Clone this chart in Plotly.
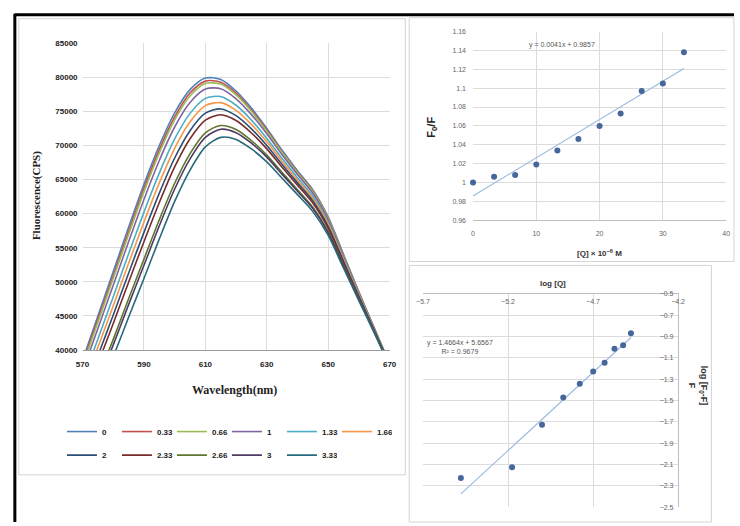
import numpy as np
import plotly.graph_objects as go

W, H = 740, 526

# ---------------- data ----------------
wavelength = [570, 575, 580, 585, 590, 595, 600, 605, 610, 615, 620,
              625, 630, 635, 640, 645, 650, 655, 660, 665, 670]

conc_labels = ["0", "0.33", "0.66", "1", "1.33", "1.66", "2", "2.33", "2.66", "3", "3.33"]

f_0 = [38500, 45000, 51500, 58000, 64300, 70000, 74800, 78200, 79900, 79700, 78000,
       75500, 72500, 69300, 66300, 63500, 59500, 54000, 48500, 43200, 38000]
f_033 = [38000, 44500, 50900, 57400, 63700, 69400, 74200, 77700, 79450, 79300, 77700,
         75200, 72300, 69100, 66100, 63350, 59400, 53900, 48450, 43170, 37980]
f_066 = [37660, 44080, 50500, 56940, 63200, 68900, 73760, 77260, 79090, 79020, 77430,
         75020, 72110, 68970, 66020, 63240, 59280, 53840, 48400, 43140, 37970]
f_1 = [36820, 43160, 49500, 55890, 62090, 67810, 72720, 76310, 78280, 78340, 76860,
       74540, 71720, 68640, 65740, 62990, 59070, 53680, 48290, 43090, 37940]
f_133 = [35400, 41610, 47810, 54110, 60230, 65960, 70960, 74720, 76920, 77190, 75910,
         73730, 71050, 68090, 65270, 62560, 58700, 53410, 48120, 42990, 37880]
f_166 = [34300, 40400, 46500, 52720, 58780, 64520, 69600, 73480, 75860, 76300, 75160,
         73100, 70540, 67660, 64900, 62220, 58420, 53200, 47980, 42920, 37840]
f_2 = [33150, 39140, 45130, 51270, 57260, 63010, 68170, 72180, 74750, 75370, 74380,
       72440, 70000, 67210, 64520, 61870, 58120, 52980, 47840, 42840, 37800]
f_233 = [32100, 37990, 43880, 49950, 55880, 61640, 66870, 71000, 73740, 74520, 73670,
         71840, 69510, 66800, 64170, 61550, 57850, 52780, 47710, 42770, 37760]
f_266 = [30150, 35860, 41560, 47510, 53330, 59110, 64460, 68820, 71870, 72940, 72360,
         70730, 68600, 66040, 63520, 60960, 57350, 52410, 47470, 42640, 37680]
f_3 = [29470, 35110, 40750, 46650, 52430, 58220, 63620, 68050, 71210, 72390, 71890,
       70340, 68290, 65770, 63290, 60750, 57180, 52280, 47380, 42600, 37660]
f_333 = [28000, 33500, 39000, 44800, 50500, 56300, 61800, 66400, 69800, 71200, 70900,
         69500, 67600, 65200, 62800, 60300, 56800, 52000, 47200, 42500, 37600]

spectra = [f_0, f_033, f_066, f_1, f_133, f_166, f_2, f_233, f_266, f_3, f_333]

line_colors = ["#4F81BD", "#C0504D", "#9BBB59", "#8064A2", "#4BACC6", "#F79646",
               "#2C4D75", "#772C2A", "#5F7530", "#4D3B62", "#276A7C"]

# Stern-Volmer
sv_q = [0, 3.33, 6.66, 10, 13.33, 16.66, 20, 23.33, 26.66, 30, 33.33]
sv_f0f = [1.000, 1.006, 1.008, 1.019, 1.034, 1.046, 1.060, 1.073, 1.097, 1.105, 1.138]

# double log
log_q = [-5.477, -5.176, -5.000, -4.875, -4.778, -4.699, -4.632, -4.574, -4.523, -4.477]
log_ratio = [-2.227, -2.126, -1.727, -1.472, -1.343, -1.227, -1.144, -1.015, -0.982, -0.868]


def px(x):
    return x / W


def py(y):
    return 1 - y / H


fig = go.Figure()

# ---------------- spectra ----------------
for i, (lab, ys) in enumerate(zip(conc_labels, spectra)):
    fig.add_trace(go.Scatter(
        x=wavelength, y=ys, mode="lines", name=lab,
        line=dict(color=line_colors[i], width=1.6, shape="spline", smoothing=0.8),
        xaxis="x", yaxis="y",
        legend="legend" if i < 6 else "legend2",
    ))

# ---------------- Stern-Volmer ----------------
m1, b1 = np.polyfit(sv_q, sv_f0f, 1)
sv_fit_x = [min(sv_q), max(sv_q)]
sv_fit_y = [m1 * v + b1 for v in sv_fit_x]
fig.add_trace(go.Scatter(x=sv_fit_x, y=sv_fit_y, mode="lines",
                         line=dict(color="#9dbbe0", width=1.2),
                         xaxis="x2", yaxis="y2", showlegend=False))
fig.add_trace(go.Scatter(x=sv_q, y=sv_f0f, mode="markers", cliponaxis=False,
                         marker=dict(color="#46679c", size=6),
                         xaxis="x2", yaxis="y2", showlegend=False))

# ---------------- double log ----------------
m2, b2 = np.polyfit(log_q, log_ratio, 1)
pred = np.polyval([m2, b2], log_q)
ss_res = float(np.sum((np.array(log_ratio) - pred) ** 2))
ss_tot = float(np.sum((np.array(log_ratio) - np.mean(log_ratio)) ** 2))
r2 = 1 - ss_res / ss_tot
lg_fit_x = [min(log_q), max(log_q)]
lg_fit_y = [m2 * v + b2 for v in lg_fit_x]
fig.add_trace(go.Scatter(x=lg_fit_x, y=lg_fit_y, mode="lines",
                         line=dict(color="#9dbbe0", width=1.2),
                         xaxis="x3", yaxis="y3", showlegend=False))
fig.add_trace(go.Scatter(x=log_q, y=log_ratio, mode="markers", cliponaxis=False,
                         marker=dict(color="#46679c", size=6),
                         xaxis="x3", yaxis="y3", showlegend=False))

grid = "#dcdcdc"
tickfont_l = dict(family="Liberation Sans", size=8, color="#222222", weight="bold")
tickfont_s = dict(family="Liberation Sans", size=7, color="#666666")
legfont = dict(family="Liberation Sans", size=8, color="#222222", weight="bold")

fig.update_layout(
    width=W, height=H,
    margin=dict(l=0, r=0, t=0, b=0),
    paper_bgcolor="white", plot_bgcolor="rgba(0,0,0,0)",
    xaxis=dict(domain=[px(77), px(390)], range=[570, 670], dtick=20, tick0=570,
               showgrid=True, gridcolor=grid, showline=True, linecolor="#9a9a9a",
               zeroline=False, ticks="", tickfont=tickfont_l, anchor="y",
               ticklabelstandoff=6),
    yaxis=dict(domain=[py(352), py(40)], range=[40000, 85000], dtick=5000,
               showgrid=True, gridcolor=grid, zeroline=False, ticks="",
               tickformat="d", tickfont=tickfont_l, anchor="x", ticklabelstandoff=4),
    xaxis2=dict(domain=[px(475), px(733)], range=[0, 40], dtick=10,
                showgrid=True, gridcolor=grid, showline=True, linecolor="#bfbfbf",
                zeroline=False, ticks="", tickfont=tickfont_s, anchor="y2",
                ticklabelstandoff=6),
    yaxis2=dict(domain=[py(220), py(28)], range=[0.96, 1.16], dtick=0.02, tick0=0.96,
                showgrid=True, gridcolor=grid, zeroline=False, ticks="",
                tickfont=tickfont_s, anchor="x2", ticklabelstandoff=6),
    xaxis3=dict(domain=[px(424), px(684)], range=[-5.7, -4.2], dtick=0.5, tick0=-5.7,
                side="top", ticklabelposition="inside", ticklabeloverflow="allow",
                showgrid=True, gridcolor=grid, showline=True, linecolor="#bfbfbf",
                zeroline=False, ticks="", tickfont=tickfont_s, anchor="y3",
                ticklabelstandoff=4),
    yaxis3=dict(domain=[py(512), py(295)], range=[-2.5, -0.5], dtick=0.2, tick0=-2.5,
                side="right", ticklabelposition="inside", ticklabeloverflow="allow",
                showgrid=True, gridcolor=grid, showline=True, linecolor="#bfbfbf",
                zeroline=False, ticks="", tickfont=tickfont_s, anchor="x3",
                ticklabelstandoff=3),
    legend=dict(orientation="h", x=px(56), y=py(435), xanchor="left", yanchor="middle",
                entrywidth=10, entrywidthmode="pixels", itemwidth=30,
                font=legfont, bgcolor="rgba(0,0,0,0)", tracegroupgap=0),
    legend2=dict(orientation="h", x=px(56), y=py(459), xanchor="left", yanchor="middle",
                 entrywidth=10, entrywidthmode="pixels", itemwidth=30,
                 font=legfont, bgcolor="rgba(0,0,0,0)", tracegroupgap=0),
    showlegend=True,
)

# ---------------- boxes & border ----------------
shapes = [
    dict(type="rect", xref="paper", yref="paper", x0=px(12), x1=px(406), y0=py(479), y1=py(15),
         line=dict(color="#d4d4d4", width=1), fillcolor="white", layer="below"),
    dict(type="rect", xref="paper", yref="paper", x0=px(410), x1=px(741), y0=py(262), y1=py(14),
         line=dict(color="#d4d4d4", width=1), fillcolor="white", layer="below"),
    dict(type="rect", xref="paper", yref="paper", x0=px(410), x1=px(718), y0=py(527), y1=py(266),
         line=dict(color="#d4d4d4", width=1), fillcolor="white", layer="below"),
    dict(type="line", xref="paper", yref="paper", x0=px(8), x1=px(741), y0=py(11), y1=py(11),
         line=dict(color="black", width=3)),
    dict(type="line", xref="paper", yref="paper", x0=px(8), x1=px(8), y0=py(10), y1=py(527),
         line=dict(color="black", width=3)),
]
fig.update_layout(shapes=shapes)


def note(text, x, y, size, color="#222222", bold=False, family="Liberation Sans", angle=0):
    f = dict(family=family, size=size, color=color)
    if bold:
        f["weight"] = "bold"
    return dict(text=text, x=px(x), y=py(y), xref="paper", yref="paper",
                xanchor="center", yanchor="middle", showarrow=False,
                textangle=angle, font=f)


ann = [
    note("Wavelength(nm)", 232, 393, 12, bold=True, family="Liberation Serif"),
    note("Fluorescence(CPS)", 30, 195, 11, bold=True, family="Liberation Serif", angle=-90),
    note("F<sub>0</sub>/F", 433, 125, 11, bold=True, angle=-90),
    note("[Q] × 10<sup>−6</sup> M", 604, 253, 8, color="#333333", bold=True),
    note(f"y = {m1:.4f}x + {b1:.4f}", 566, 42, 7, color="#555555"),
    note("log [Q]", 557, 284, 8, color="#333333", bold=True),
    note(f"y = {m2:.4f}x + {b2:.4f}<br>R² = {r2:.4f}", 462, 349, 7, color="#555555"),
    note("log [F<sub>0</sub>-F]<br>F", 704, 388, 9, color="#333333", bold=True, angle=90),
]
fig.update_layout(annotations=ann)

fig.write_html("out.html")
